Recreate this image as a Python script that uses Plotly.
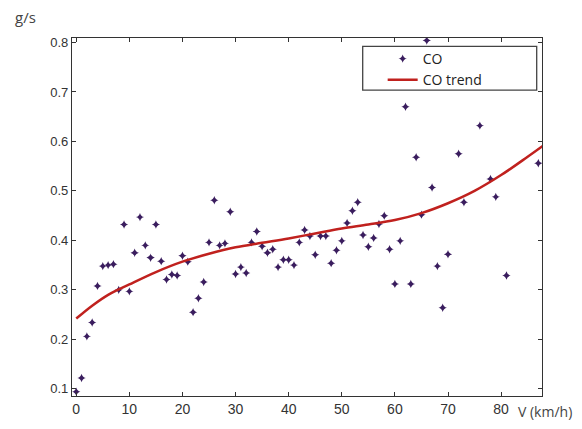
import plotly.graph_objects as go

# measured CO emission points (speed km/h, g/s)
speed = [0, 1, 2, 3, 4, 5, 6, 7, 8, 9, 10, 11, 12, 13, 14, 15, 16, 17, 18, 19,
         20, 21, 22, 23, 24, 25, 26, 27, 28, 29, 30, 31, 32, 33, 34, 35, 36, 37,
         38, 39, 40, 41, 42, 43, 44, 45, 46, 47, 48, 49, 50, 51, 52, 53, 54, 55,
         56, 57, 58, 59, 60, 61, 62, 63, 64, 65, 66, 67, 68, 69, 70, 72, 73, 76,
         78, 79, 81, 87]
co = [0.094, 0.122, 0.206, 0.234, 0.308, 0.348, 0.350, 0.352, 0.300, 0.432,
      0.297, 0.375, 0.447, 0.390, 0.365, 0.432, 0.358, 0.321, 0.331, 0.329,
      0.369, 0.357, 0.255, 0.283, 0.316, 0.396, 0.481, 0.390, 0.394, 0.458,
      0.332, 0.346, 0.334, 0.396, 0.418, 0.388, 0.375, 0.382, 0.346, 0.361,
      0.361, 0.350, 0.396, 0.421, 0.409, 0.371, 0.409, 0.409, 0.354, 0.380,
      0.399, 0.435, 0.460, 0.477, 0.411, 0.387, 0.405, 0.433, 0.450, 0.382,
      0.312, 0.399, 0.670, 0.312, 0.568, 0.452, 0.804, 0.507, 0.348, 0.264,
      0.372, 0.575, 0.477, 0.632, 0.524, 0.488, 0.329, 0.556]

# trend curve
trend_v = [0, 3, 6, 10, 15, 20, 25, 30, 35, 40, 45, 50, 55, 60, 65, 70, 75, 80, 85, 88]
trend_co = [0.242, 0.268, 0.290, 0.311, 0.336, 0.357, 0.373, 0.386, 0.395, 0.404,
            0.414, 0.424, 0.432, 0.441, 0.455, 0.475, 0.500, 0.532, 0.569, 0.592]

x_ticks = [0, 10, 20, 30, 40, 50, 60, 70, 80]
y_ticks = [0.1, 0.2, 0.3, 0.4, 0.5, 0.6, 0.7, 0.8]

fig = go.Figure()
fig.add_trace(go.Scatter(x=speed, y=co, mode='markers', name='CO',
                         marker=dict(symbol='star-diamond', size=6, color='#3a1d5e')))
fig.add_trace(go.Scatter(x=trend_v, y=trend_co, mode='lines', name='CO trend',
                         line=dict(color='#c0211e', width=2.5, shape='spline')))

axis_style = dict(showline=True, linecolor='#333', linewidth=1.3, mirror='ticks',
                  ticks='inside', ticklen=4, tickcolor='#333', showgrid=False,
                  zeroline=False)

fig.update_layout(
    width=574, height=421,
    margin=dict(l=64, r=40, t=30, b=22),
    paper_bgcolor='white', plot_bgcolor='white',
    font=dict(family='Liberation Sans, Arial, sans-serif', color='#333'),
    xaxis=dict(range=[-0.8, 87.7], tickvals=x_ticks, tickfont=dict(size=14),
               **axis_style),
    yaxis=dict(range=[0.0855, 0.809], tickvals=y_ticks, tickformat='.1f',
               tickfont=dict(size=13), **axis_style),
    showlegend=True,
    legend=dict(x=0.661, y=0.986, xanchor='left', yanchor='top',
                bgcolor='rgba(0,0,0,0)', borderwidth=0,
                font=dict(size=14, family='Open Sans, sans-serif', color='#222')),
    shapes=[dict(type='rect', xref='paper', yref='paper', layer='above',
                 x0=(362.7 - 72) / 470, x1=(536.7 - 72) / 470,
                 y0=(407 - 91.7) / 369, y1=(407 - 46.7) / 369,
                 line=dict(color='#444', width=1.3), fillcolor='white')],
    annotations=[
        dict(text='g/s', xref='paper', yref='paper', x=-0.125, y=1.025,
             xanchor='left', yanchor='bottom', showarrow=False,
             font=dict(size=15, family='Open Sans, sans-serif', color='#444')),
        dict(text='V (km/h)', xref='paper', yref='paper', x=1.068, y=-0.012,
             xanchor='right', yanchor='top', showarrow=False,
             font=dict(size=14, family='Open Sans, sans-serif', color='#444')),
    ],
)

fig.write_html("out.html")
